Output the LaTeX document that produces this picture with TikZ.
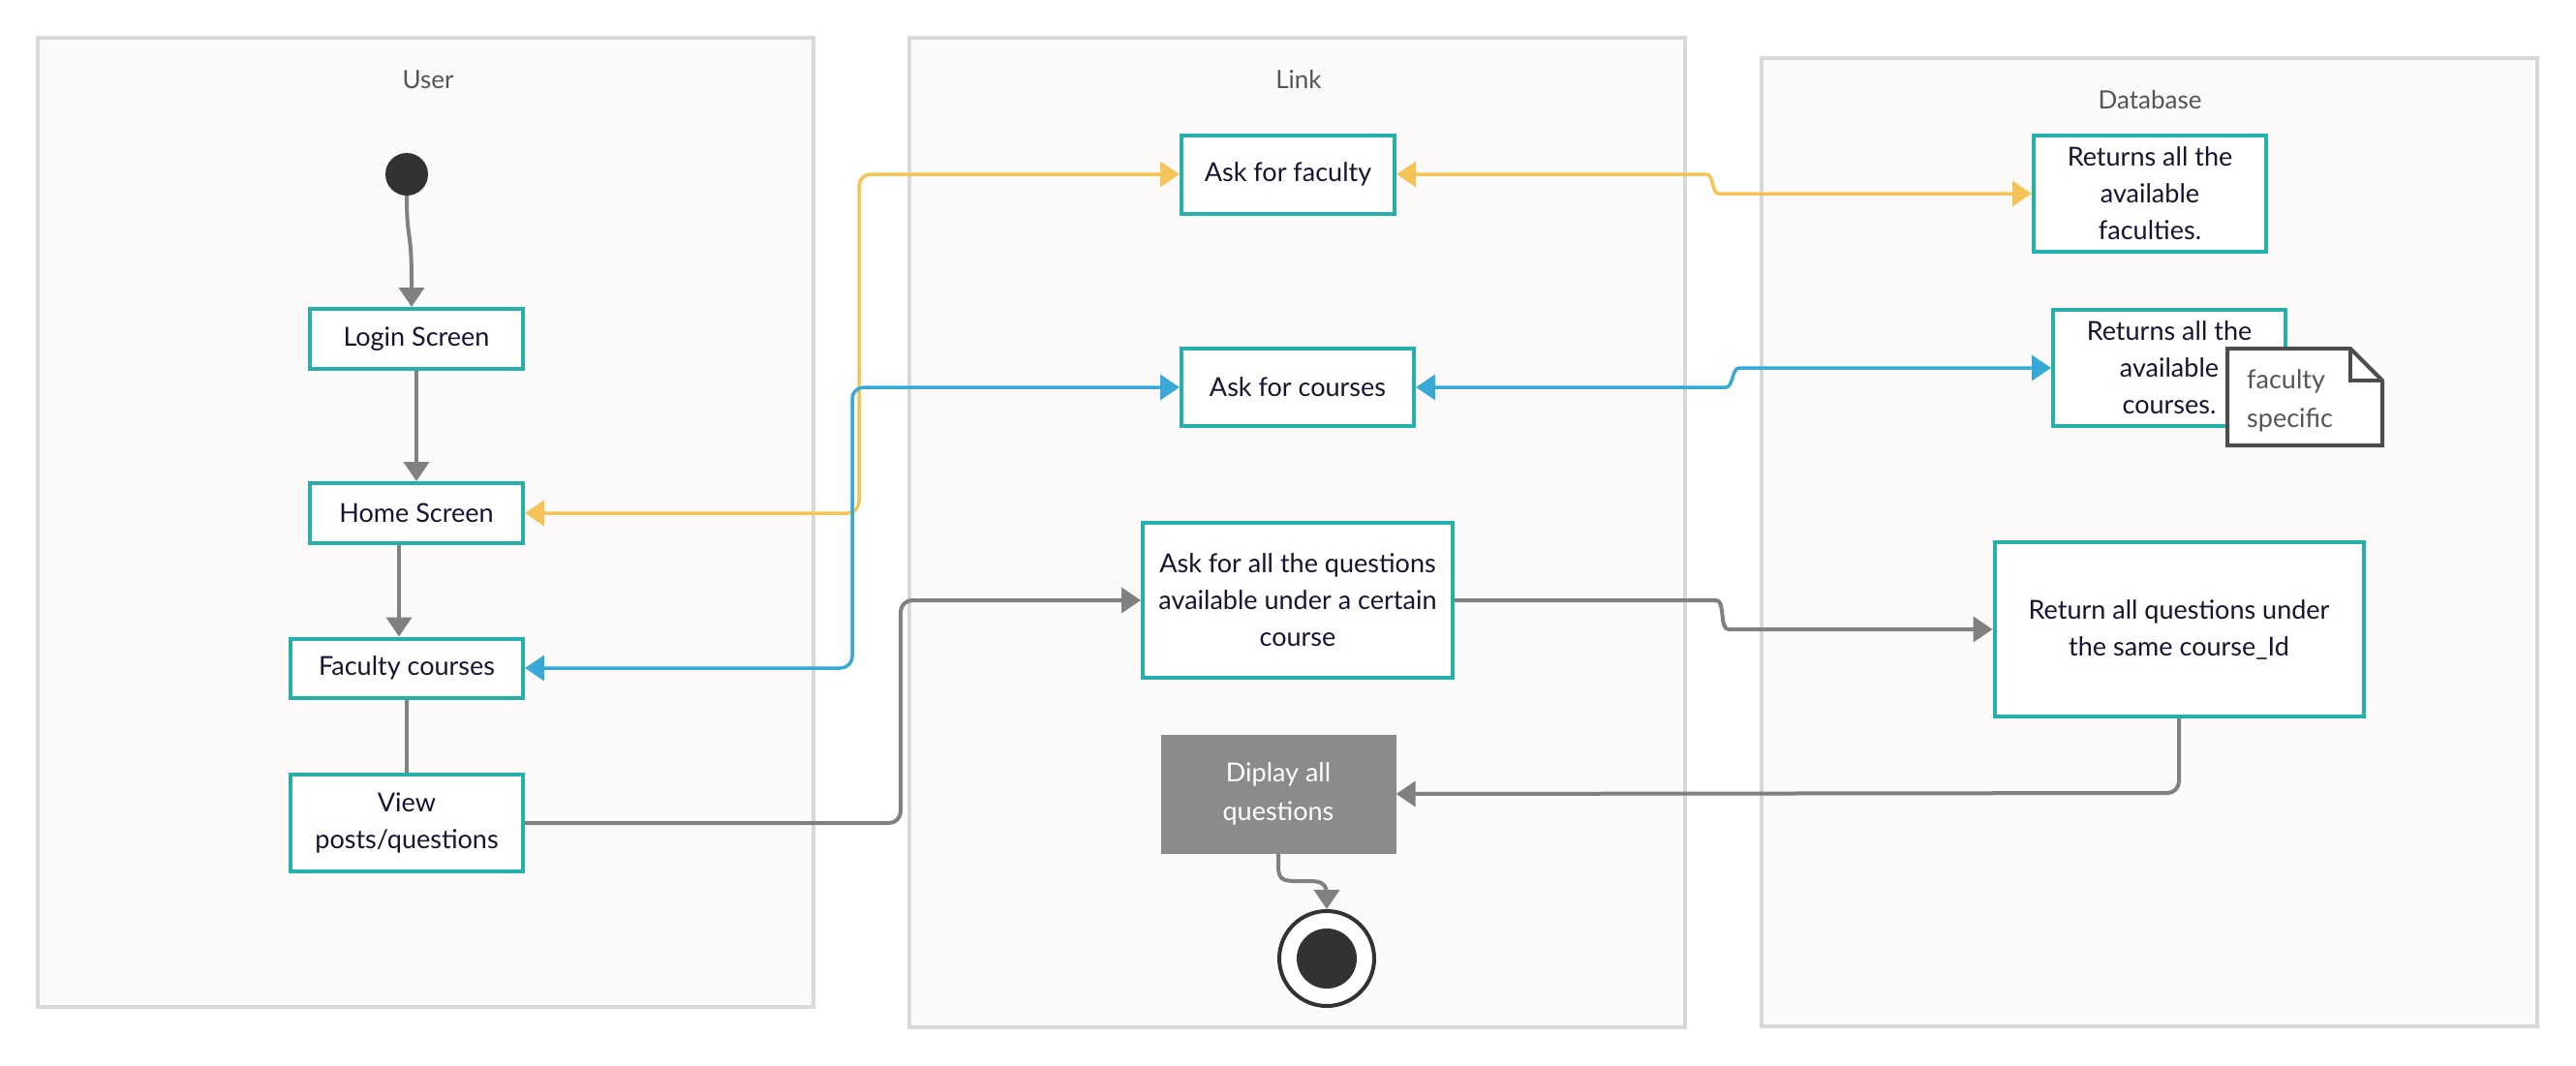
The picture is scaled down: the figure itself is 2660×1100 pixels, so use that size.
\documentclass[tikz,border=0pt]{standalone}
\usepackage{fontspec}
\setmainfont{Lato}
\usetikzlibrary{arrows.meta,calc}

\definecolor{boxteal}{HTML}{27AFAB}
\definecolor{flowyellow}{HTML}{F5C458}
\definecolor{flowblue}{HTML}{38A9D6}
\definecolor{flowgray}{HTML}{808080}
\definecolor{actgray}{HTML}{8B8B8B}
\definecolor{darkdot}{HTML}{323232}
\definecolor{inktext}{HTML}{151533}
\definecolor{lanefill}{HTML}{FBFAF8}
\definecolor{laneline}{HTML}{D8D8D8}
\definecolor{lanetext}{HTML}{555555}
\definecolor{noteline}{HTML}{4D4D4D}

\tikzset{
  lane/.style={draw=laneline, fill=lanefill, line width=3.5pt},
  lanetitle/.style={text=lanetext, font=\fontsize{26}{32}\selectfont, inner sep=0pt},
  actbox/.style={draw=boxteal, fill=white, line width=4pt, inner sep=0pt,
    align=center, text=inktext, font=\fontsize{27}{38}\selectfont},
  actdark/.style={fill=actgray, inner sep=0pt, align=center, text=white,
    font=\fontsize{27}{40}\selectfont},
  notetext/.style={inner sep=0pt, align=left, text=lanetext,
    font=\fontsize{27}{40}\selectfont},
  flow/.style={line width=4pt, rounded corners=12pt,
    >={Triangle[length=20pt,width=26pt]}},
  grayflow/.style={flow, draw=flowgray},
  yellowflow/.style={flow, draw=flowyellow, line width=3.5pt},
  blueflow/.style={flow, draw=flowblue, line width=3.5pt},
}

\begin{document}
\begin{tikzpicture}[x=1pt, y=-1pt]
  \useasboundingbox[fill=white] (0,0) rectangle (2660,1100);

  % swimlanes
  \draw[lane] (39,39) rectangle (840,1040);
  \draw[lane] (939,39) rectangle (1740,1061);
  \draw[lane] (1819,60) rectangle (2620,1060);
  \node[lanetitle] (tuser) at (442,82) {User};
  \node[lanetitle] (tlink) at (1341,82) {Link};
  \node[lanetitle] (tdb) at (2220,103) {Database};

  % user lane
  \node[circle, fill=darkdot, minimum size=44pt, inner sep=0pt] (start) at (420,180) {};
  \node[actbox, minimum width=220pt, minimum height=62pt] (login) at (430,350) {Login Screen};
  \node[actbox, minimum width=220pt, minimum height=62pt] (home) at (430,530) {Home Screen};
  \node[actbox, minimum width=240pt, minimum height=61pt] (faculty) at (420,690) {Faculty courses};
  \node[actbox, minimum width=240pt, minimum height=100pt] (view) at (420,850) {View\\posts/questions};

  % link lane
  \node[actbox, minimum width=220pt, minimum height=81pt] (askfac) at (1330,180) {Ask for faculty};
  \node[actbox, minimum width=240pt, minimum height=80pt] (askcourse) at (1340,400) {Ask for courses};
  \node[actbox, minimum width=320pt, minimum height=160pt] (askq) at (1340,620)
    {Ask for all the questions\\available under a certain\\course};
  \node[actdark, minimum width=243pt, minimum height=123pt] (display) at (1320,820) {Diplay all\\questions};
  \node[circle, draw=darkdot, line width=4pt, fill=white, minimum size=98pt, inner sep=0pt] (end) at (1370,990) {};
  \node[circle, fill=darkdot, minimum size=62pt, inner sep=0pt] (endin) at (1370,990) {};

  % database lane
  \node[actbox, minimum width=240pt, minimum height=120pt] (retfac) at (2220,200)
    {Returns all the\\available\\faculties.};
  \node[actbox, minimum width=240pt, minimum height=120pt] (retcourse) at (2240,380)
    {Returns all the\\available\\courses.};
  \node[actbox, minimum width=381pt, minimum height=180pt] (retq) at (2250,650)
    {Return all questions under\\the same course\_Id};

  % note with folded corner
  \filldraw[draw=noteline, fill=white, line width=4pt, line join=miter]
    (2300,360) -- (2427,360) -- (2460,393) -- (2460,460) -- (2300,460) -- cycle;
  \draw[noteline, line width=4pt] (2427,360) -- (2427,393) -- (2460,393);
  \node[notetext, anchor=west] (note) at (2320,414) {faculty\\specific};

  % control flow in the user lane
  \draw[grayflow, ->, rounded corners=0pt] (start.south)
    .. controls (420,250) and (425,235) .. (425,290) -- ([xshift=-5pt]login.north);
  \draw[grayflow, ->] (login.south) -- (home.north);
  \draw[grayflow, ->] ([xshift=-18pt]home.south) -- ([xshift=-8pt]faculty.north);
  \draw[grayflow] (faculty.south) -- (view.north);

  % faculty request / response
  \draw[yellowflow, <->] (home.east) -- (887,530) -- (887,180) -- (askfac.west);
  \draw[yellowflow, <->] (askfac.east) -- (1750,180)
    .. controls (1770,180) and (1767,200) .. (1787,200) -- (retfac.west);

  % course request / response
  \draw[blueflow, <->] (faculty.east) -- (880,690) -- (880,400) -- (askcourse.west);
  \draw[blueflow, <->] (askcourse.east) -- (1770,400)
    .. controls (1790,400) and (1788,380) .. (1808,380) -- (retcourse.west);

  % question request / response
  \draw[grayflow, ->] (view.east) -- (930,850) -- (930,620) -- (askq.west);
  \draw[grayflow, ->] (askq.east) -- (1760,620)
    .. controls (1782,620) and (1775,650) .. (1797,650) -- (retq.west);
  \draw[grayflow, ->] (retq.south) -- (2250,819) -- (display.east);
  \draw[grayflow, ->, rounded corners=0pt] (display.south) -- (1320,895)
    .. controls (1320,908) and (1325,910) .. (1338,910) -- (1352,910)
    .. controls (1366,910) and (1370,914) .. (1370,925) -- (end.north);
\end{tikzpicture}
\end{document}
